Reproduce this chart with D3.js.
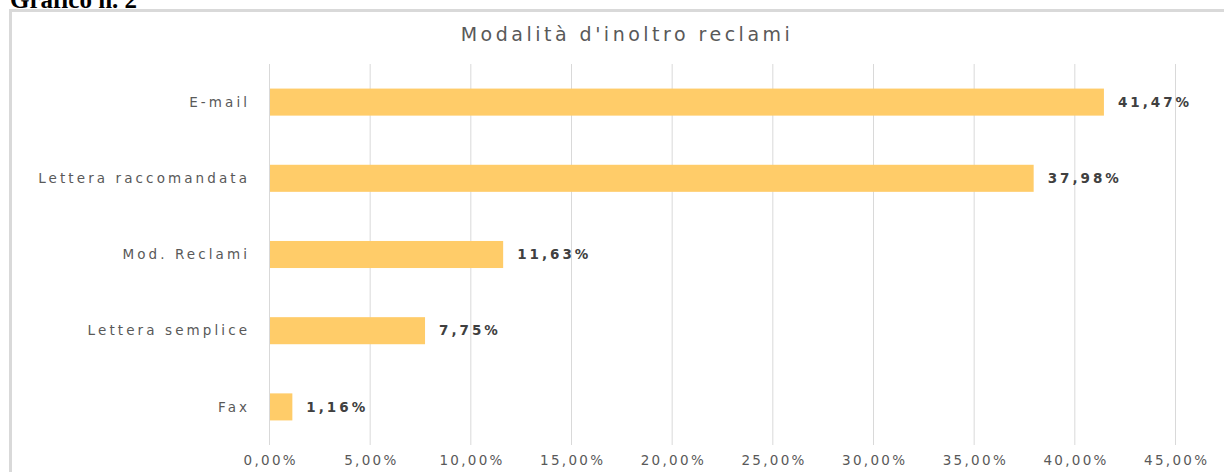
<!DOCTYPE html>
<html>
<head>
<meta charset="utf-8">
<script src="https://cdn.jsdelivr.net/npm/d3@7"></script>
<style>
  body { margin: 0; background: #fff; }
  svg { display: block; }
</style>
</head>
<body>
<svg width="1224" height="472" viewBox="0 0 1224 472"></svg>
<script>
/* DATA */
var categories = ["E-mail", "Lettera raccomandata", "Mod. Reclami", "Lettera semplice", "Fax"];
var values = [41.47, 37.98, 11.63, 7.75, 1.16];
var ticks = [0, 5, 10, 15, 20, 25, 30, 35, 40, 45];

var svg = d3.select("svg");
var it = d3.formatLocale({ decimal: ",", thousands: ".", grouping: [3], currency: ["", "€"] });
var fmt = it.format(".2f");
var font = "DejaVu Sans, sans-serif";

/* SCALES */
var x = d3.scaleLinear().domain([0, 45]).range([269, 1175]);
var y = d3.scaleBand().domain(categories).range([64, 445])
	.paddingInner(0.645).paddingOuter(0.3225);

/* HEADER outside the chart box (cut at the top like the source) */
svg.append("text")
	.attr("x", 10).attr("y", 8)
	.attr("font-family", "Liberation Serif, serif")
	.attr("font-weight", "bold")
	.attr("font-size", "25px")
	.attr("fill", "#000")
	.text("Grafico n. 2");

/* CHART BOX (left + top edges visible only) */
svg.append("path")
	.attr("d", "M10.5,472 L10.5,10.5 L1224,10.5")
	.attr("fill", "none")
	.attr("stroke", "#d9d9d9")
	.attr("stroke-width", 3);

/* TITLE */
svg.append("text")
	.attr("x", 625 + 2).attr("y", 41)
	.attr("text-anchor", "middle")
	.attr("font-family", font)
	.attr("font-size", "19px")
	.attr("letter-spacing", "3.5px")
	.attr("fill", "#595959")
	.text("Modalità d'inoltro reclami");

/* GRID */
svg.append("g")
	.selectAll("line")
	.data(ticks)
	.enter()
	.append("line")
	.attr("x1", function (d) { return x(d) + 0.5; })
	.attr("x2", function (d) { return x(d) + 0.5; })
	.attr("y1", 64).attr("y2", 445)
	.attr("stroke", "#d9d9d9")
	.attr("stroke-width", 1);

/* X AXIS */
var xAxis = svg.append("g")
	.attr("transform", "translate(0,445)")
	.call(d3.axisBottom(x).tickValues(ticks).tickSize(0).tickPadding(10)
		.tickFormat(function (d) { return fmt(d) + "%"; }));
xAxis.select(".domain").remove();
xAxis.selectAll("text")
	.attr("font-family", font)
	.attr("font-size", "13.5px")
	.attr("letter-spacing", "2.3px")
	.attr("dx", "1.2px")
	.attr("fill", "#595959");

/* BARS */
svg.append("g")
	.selectAll("rect")
	.data(values)
	.enter()
	.append("rect")
	.attr("x", x(0) + 1)
	.attr("y", function (d, i) { return y(categories[i]); })
	.attr("width", function (d) { return x(d) - x(0) - 1; })
	.attr("height", y.bandwidth())
	.attr("fill", "#ffcc69");

/* VALUE LABELS */
svg.append("g")
	.selectAll("text")
	.data(values)
	.enter()
	.append("text")
	.attr("x", function (d) { return x(d) + 14; })
	.attr("y", function (d, i) { return y(categories[i]) + y.bandwidth() / 2; })
	.attr("dy", "0.35em")
	.attr("font-family", font)
	.attr("font-weight", "bold")
	.attr("font-size", "13.5px")
	.attr("letter-spacing", "3px")
	.attr("fill", "#404040")
	.text(function (d) { return fmt(d) + "%"; });

/* CATEGORY LABELS */
svg.append("g")
	.selectAll("text")
	.data(categories)
	.enter()
	.append("text")
	.attr("x", 247 + 3.1)
	.attr("y", function (d) { return y(d) + y.bandwidth() / 2; })
	.attr("dy", "0.35em")
	.attr("text-anchor", "end")
	.attr("font-family", font)
	.attr("font-size", "13.5px")
	.attr("letter-spacing", "3.1px")
	.attr("fill", "#595959")
	.text(function (d) { return d; });
</script>
</body>
</html>
